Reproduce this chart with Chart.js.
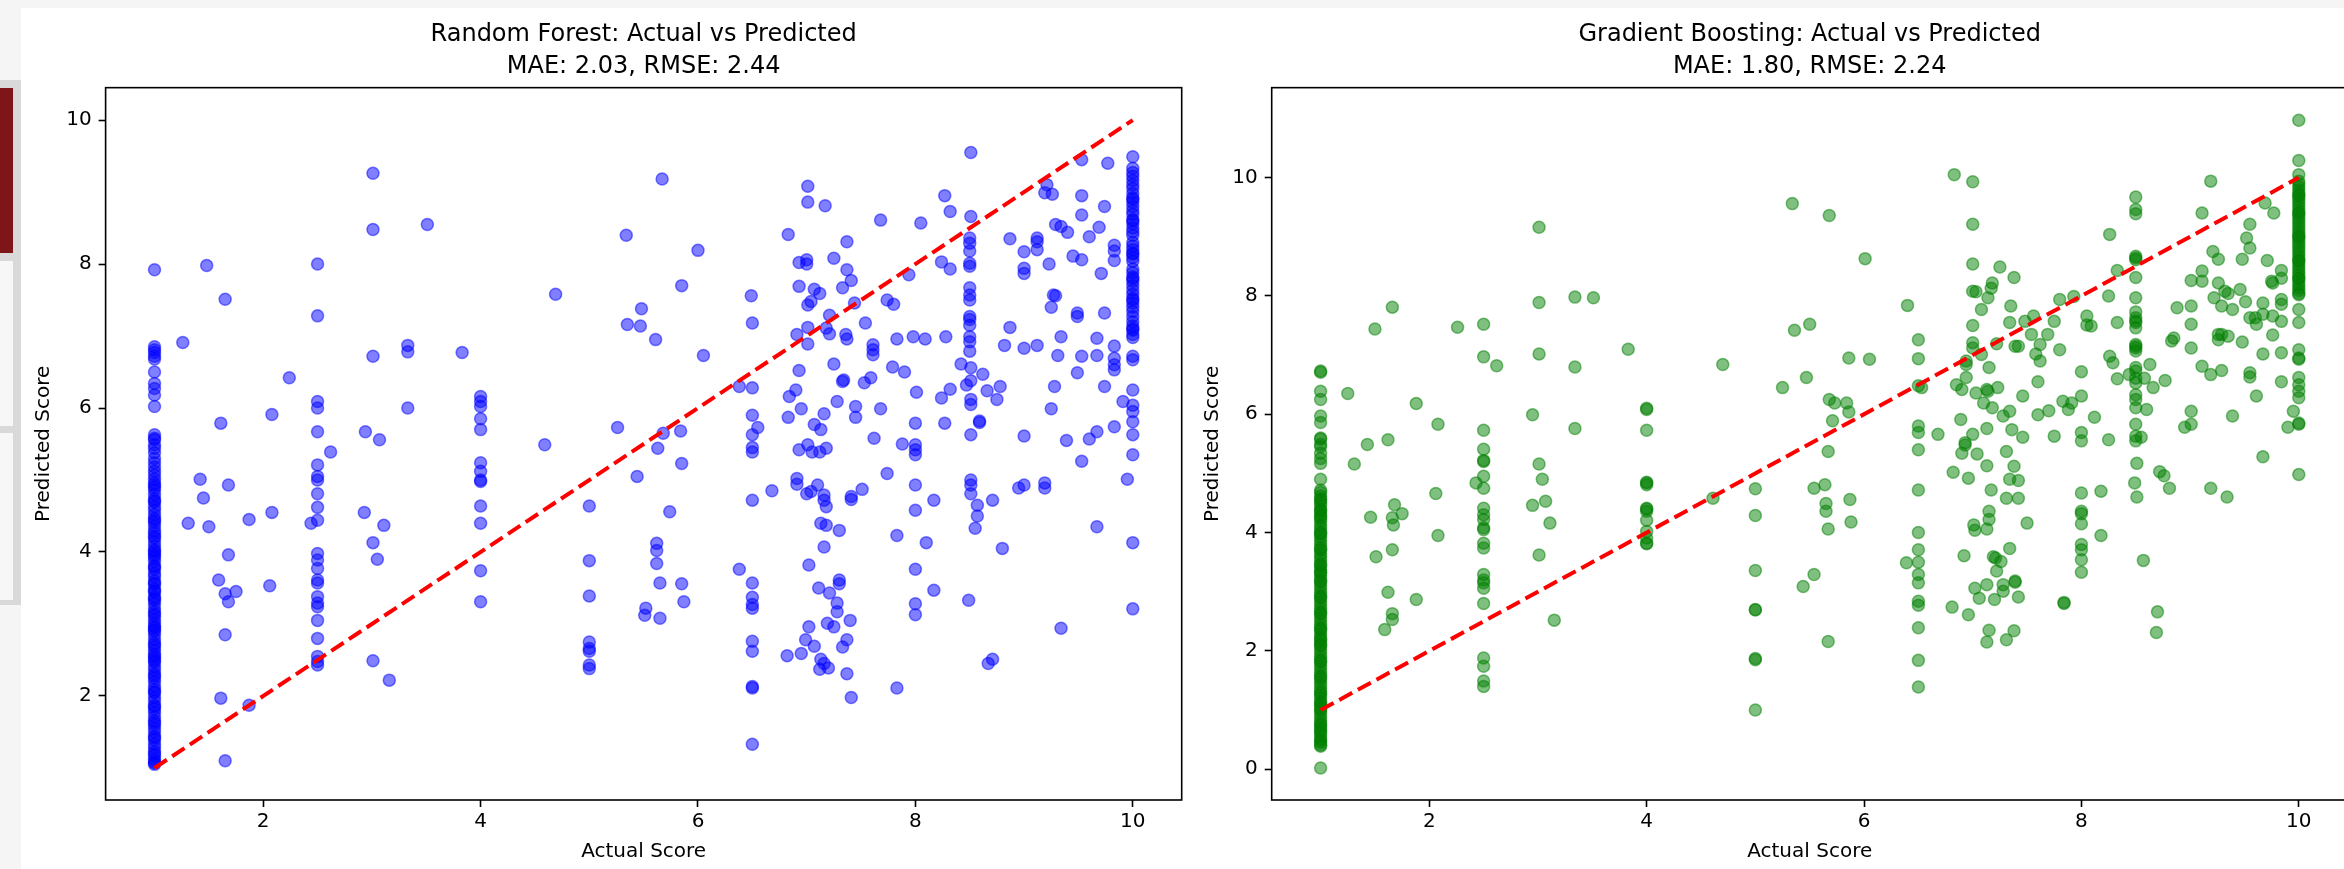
<!DOCTYPE html>
<html><head><meta charset="utf-8">
<script src="https://cdn.jsdelivr.net/npm/chart.js@4"></script>
<style>
html,body{margin:0;padding:0;width:2344px;height:869px;overflow:hidden;background:#f5f5f5;}
#panel{position:absolute;left:21px;top:8px;width:2323px;height:861px;background:#fff;}
#sidebar{position:absolute;left:0;top:80px;width:21px;height:525px;background:#d9d9d9;}
.sb{position:absolute;left:0;width:13px;}
canvas{position:absolute;top:0;}
</style></head><body>
<div id="panel"></div>
<div id="sidebar"></div>
<div class="sb" style="top:88px;height:165px;background:#7d1519"></div>
<div class="sb" style="top:261px;height:165px;background:#f7f7f7"></div>
<div class="sb" style="top:433px;height:167px;background:#f7f7f7"></div>
<canvas id="rf" width="1165" height="869" style="left:21px"></canvas>
<canvas id="gb" width="1212" height="869" style="left:1188px"></canvas>
<script>
const xTicks = [2, 4, 6, 8, 10];
const rfYTicks = [2, 4, 6, 8, 10];
const gbYTicks = [0, 2, 4, 6, 8, 10];
const perfectLine = [1, 10];
const rfTitle = ['Random Forest: Actual vs Predicted', 'MAE: 2.03, RMSE: 2.44'];
const gbTitle = ['Gradient Boosting: Actual vs Predicted', 'MAE: 1.80, RMSE: 2.24'];
const xLabel = 'Actual Score';
const yLabel = 'Predicted Score';

// [actual, predicted]
const rfPoints = [
[1,7.92],[1,6.85],[1,6.81],[1,6.77],[1,6.72],[1,6.68],[1,6.50],[1,6.34],[1,6.27],[1,6.18],
[1,6.02],[1,5.63],[1,5.56],[1,5.49],[1,5.58],[1,5.44],[1,5.38],[1,5.30],[1,5.24],[1,5.18],
[1,5.12],[1,5.07],[1,5.01],[1,4.96],[1,4.90],[1,4.86],[1,4.80],[1,4.74],[1,4.69],[1,4.63],
[1,4.58],[1,4.52],[1,4.47],[1,4.41],[1,4.36],[1,4.30],[1,4.26],[1,4.19],[1,4.14],[1,4.08],
[1,4.03],[1,3.98],[1,3.92],[1,3.87],[1,3.81],[1,3.76],[1,3.70],[1,3.66],[1,3.60],[1,3.55],
[1,3.49],[1,3.44],[1,3.38],[1,3.33],[1,3.28],[1,3.22],[1,3.17],[1,3.11],[1,3.06],[1,3.01],
[1,2.95],[1,2.90],[1,2.85],[1,2.79],[1,2.74],[1,2.68],[1,2.63],[1,2.58],[1,2.52],[1,2.47],
[1,2.41],[1,2.36],[1,2.31],[1,2.25],[1,2.20],[1,2.14],[1,2.09],[1,2.04],[1,1.98],[1,1.93],
[1,1.87],[1,1.82],[1,1.77],[1,1.71],[1,1.66],[1,1.60],[1,1.55],[1,1.50],[1,1.44],[1,1.39],
[1,1.33],[1,1.28],[1,1.23],[1,1.17],[1,1.12],[1,1.07],[1,1.05],[1,4.93],[1,4.71],[1,4.44],
[1,4.22],[1,4.01],[1,3.79],[1,3.57],[1,3.35],[1,3.14],[1,2.92],[1,2.71],[1,2.49],[1,2.28],
[1,2.06],[1,1.85],[1,1.63],[1,1.42],[1,1.20],[1,1.09],[1,3.95],[1,3.46],[1,2.97],[1,2.55],
[1.26,6.91],[1.48,7.98],[1.65,7.51],[2.24,6.42],[2.08,5.91],[1.61,5.79],
[2.5,8.0],[2.5,7.28],[2.5,6.09],[2.5,6.0],[2.5,5.67],
[3.01,9.26],[3.01,8.48],[3.01,6.72],[3.51,8.55],[3.33,6.87],[3.33,6.78],[3.33,6.0],[3.83,6.77],
[4.0,6.16],[4.0,6.09],[4.0,6.02],[4.0,5.85],[4.0,5.70],[2.94,5.67],[3.07,5.56],
[4.69,7.58],[4.59,5.49],[5.34,8.40],[5.35,7.16],[5.47,7.14],[5.48,7.38],[5.61,6.95],[5.67,9.18],
[5.85,7.70],[6.0,8.19],[6.05,6.73],[5.26,5.73],[5.68,5.65],[5.84,5.68],[5.63,5.44],
[1.42,5.01],[1.45,4.75],[1.68,4.93],[1.31,4.40],[1.50,4.35],[1.87,4.45],[2.08,4.55],[1.68,3.96],
[1.59,3.61],[1.65,3.42],[1.68,3.31],[1.75,3.45],[2.06,3.53],[1.65,2.85],[1.61,1.97],[1.87,1.87],[1.65,1.10],
[2.5,5.21],[2.5,5.05],[2.5,5.0],[2.5,4.81],[2.5,4.62],[2.5,4.44],[2.5,3.98],[2.5,3.89],[2.5,3.77],[2.5,3.61],
[2.5,3.57],[2.5,3.38],[2.5,3.29],[2.5,3.24],[2.5,3.05],[2.5,2.80],[2.5,2.55],[2.5,2.48],[2.5,2.43],
[2.44,4.40],[2.62,5.39],[2.93,4.55],[3.01,4.13],[3.05,3.90],[3.11,4.37],[3.01,2.49],[3.16,2.22],
[4.0,5.24],[4.0,5.12],[4.0,5.0],[4.0,4.98],[4.0,4.64],[4.0,4.40],[4.0,3.74],[4.0,3.31],
[5.0,4.64],[5.0,3.88],[5.0,3.39],[5.0,2.75],[5.0,2.66],[5.0,2.62],[5.0,2.43],[5.0,2.38],
[5.44,5.05],[5.85,5.23],[5.74,4.56],[5.62,4.12],[5.62,4.02],[5.62,3.84],[5.65,3.57],[5.52,3.22],
[5.51,3.12],[5.65,3.08],[5.85,3.56],[5.87,3.31],
[8.51,9.55],[9.53,9.45],[9.77,9.40],[10,9.49],
[10,9.33],[10,9.27],[10,9.22],[10,9.16],[10,9.10],[10,9.05],[10,8.98],[10,8.92],[10,8.86],[10,8.80],
[10,8.74],[10,8.69],[10,8.62],[10,8.56],[10,8.50],[10,8.45],[10,8.40],[10,8.30],[10,8.25],[10,8.20],
[10,8.14],[10,8.09],[10,8.04],[10,7.93],[10,7.88],[10,7.82],[10,7.76],[10,7.70],[10,7.64],[10,7.58],
[10,7.52],[10,7.46],[10,7.40],[10,7.34],[10,7.27],[10,7.20],[10,7.14],[10,7.08],[10,7.02],[10,6.98],
[10,8.90],[10,8.60],[10,8.15],[10,7.80],[10,7.50],[10,7.10],
[10,6.72],[10,6.67],[10,6.25],[10,6.04],[10,5.95],[10,5.81],[10,5.63],[10,5.35],[10,4.13],[10,3.21],
[7.01,9.08],[7.01,8.86],[7.17,8.81],[8.27,8.95],[8.32,8.73],[7.68,8.61],[8.05,8.57],[8.51,8.66],
[6.83,8.41],[7.37,8.31],[7.0,8.06],[6.93,8.02],[7.0,8.0],[7.25,8.08],[7.37,7.92],[7.41,7.77],[7.33,7.67],
[6.93,7.69],[7.07,7.65],[7.12,7.59],[7.01,7.43],[7.04,7.48],[7.44,7.46],[7.74,7.5],[7.8,7.44],
[7.94,7.85],[8.24,8.03],[8.32,7.93],
[8.5,8.36],[8.5,8.29],[8.5,8.18],[8.5,8.01],[8.5,7.97],[8.5,7.67],[8.5,7.57],[8.5,7.50],[8.5,7.27],
[8.5,7.23],[8.5,7.15],[8.5,6.99],[8.5,6.92],[8.5,6.79],
[9.21,9.10],[9.19,8.99],[9.26,8.97],[9.53,8.95],[9.53,8.68],[9.74,8.80],[9.29,8.55],[9.34,8.52],
[9.40,8.44],[9.60,8.38],[9.69,8.51],[8.87,8.35],[9.12,8.36],[9.12,8.31],[9.12,8.20],[9.0,8.17],
[9.0,7.94],[9.0,7.87],[9.23,8.0],[9.45,8.11],[9.53,8.06],[9.83,8.26],[9.83,8.18],[9.83,8.05],
[9.71,7.87],[9.27,7.57],[9.29,7.56],[9.25,7.40],[9.49,7.32],[9.49,7.27],[9.74,7.32],
[6.49,7.56],[6.50,7.18],[7.21,7.29],[7.18,7.11],[7.21,7.03],[7.01,7.12],[6.91,7.02],[7.01,6.89],
[7.36,7.02],[7.37,6.96],[7.54,7.18],[7.61,6.88],[7.61,6.81],[7.61,6.74],[7.83,6.96],[7.98,6.99],
[8.09,6.96],[8.28,6.99],[8.87,7.12],[8.82,6.87],[9.0,6.83],[9.12,6.87],[9.34,6.99],[9.67,6.97],
[9.83,6.86],[9.83,6.69],[9.83,6.60],[9.83,6.53],[9.31,6.73],[9.53,6.72],[9.67,6.73],[9.49,6.49],
[7.25,6.61],[6.93,6.52],[7.79,6.57],[7.90,6.50],[7.34,6.39],[7.33,6.37],[7.53,6.35],[7.59,6.42],
[8.01,6.22],[8.42,6.61],[8.51,6.56],[8.62,6.47],[8.51,6.38],[8.47,6.32],[8.32,6.26],[8.24,6.14],
[8.66,6.24],[8.78,6.30],[8.75,6.12],[8.51,6.12],[8.51,6.05],[8.59,5.82],[8.59,5.80],
[9.28,6.30],[9.25,5.99],[9.74,6.30],[9.91,6.09],[9.83,5.74],[9.67,5.67],[9.60,5.57],[9.0,5.61],[9.39,5.55],
[6.38,6.30],[6.50,6.28],[6.50,5.9],[6.55,5.73],[6.50,5.63],[6.84,6.16],[6.9,6.25],[6.83,5.87],[6.95,5.99],
[7.07,5.77],[7.13,5.70],[7.16,5.92],[7.28,6.09],[7.45,6.02],[7.45,5.87],[7.68,5.99],[7.62,5.58],
[8.0,5.79],[8.27,5.79],[8.51,5.63],
[6.5,5.39],[6.5,5.45],[6.93,5.42],[7.01,5.49],[7.05,5.39],[7.12,5.39],[7.18,5.44],
[7.88,5.50],[8.0,5.49],[8.0,5.42],[8.0,5.35],[9.53,5.26],[7.74,5.09],
[6.91,5.02],[6.91,4.94],[7.10,4.93],[7.04,4.84],[7.0,4.81],[7.16,4.79],[7.16,4.72],[7.18,4.63],
[7.41,4.77],[7.41,4.73],[7.51,4.87],[6.68,4.85],[6.5,4.72],[8.0,4.93],[8.0,4.58],[8.17,4.72],
[8.51,5.0],[8.51,4.93],[8.51,4.81],[8.57,4.65],[8.57,4.5],[8.55,4.33],[8.71,4.72],[8.95,4.89],
[9.0,4.93],[9.19,4.96],[9.19,4.89],[9.95,5.01],[9.67,4.35],[7.13,4.40],[7.18,4.37],[7.30,4.30],
[7.83,4.23],[8.1,4.13],[8.80,4.05],[7.16,4.07],[7.02,3.82],[6.38,3.76],[8.0,3.76],[6.5,3.57],
[7.30,3.61],[7.30,3.56],[7.11,3.50],[7.21,3.43],[7.28,3.29],[7.28,3.17],[6.5,3.37],[6.5,3.27],
[6.5,3.22],[8.17,3.47],[8.0,3.28],[8.0,3.13],[8.49,3.33],[7.40,3.05],[7.02,2.96],[7.19,3.01],
[7.25,2.96],[9.34,2.94],[6.5,2.76],[6.5,2.62],[6.99,2.78],[7.07,2.69],[6.95,2.59],[6.82,2.56],
[7.37,2.78],[7.33,2.68],[7.13,2.51],[7.16,2.45],[7.12,2.37],[7.2,2.39],[7.37,2.31],[8.71,2.51],
[8.67,2.45],[6.5,2.13],[6.5,2.11],[7.83,2.11],[7.41,1.98],[6.5,1.33]
];

const gbPoints = [
[1,6.73],[1,6.71],[1,6.39],[1,6.25],[1,5.97],[1,5.86],[1,5.60],[1,5.58],[1,5.49],[1,5.45],
[1,5.34],[1,5.25],[1,5.17],[1,4.90],[1,4.72],[1,4.68],[1,4.62],[1,4.57],[1,4.51],[1,4.46],
[1,4.40],[1,4.35],[1,4.30],[1,4.24],[1,4.19],[1,4.13],[1,4.08],[1,4.02],[1,3.97],[1,3.92],
[1,3.86],[1,3.81],[1,3.75],[1,3.70],[1,3.64],[1,3.59],[1,3.54],[1,3.48],[1,3.43],[1,3.37],
[1,3.32],[1,3.27],[1,3.21],[1,3.16],[1,3.10],[1,3.05],[1,2.99],[1,2.94],[1,2.89],[1,2.83],
[1,2.78],[1,2.72],[1,2.67],[1,2.62],[1,2.56],[1,2.51],[1,2.45],[1,2.40],[1,2.35],[1,2.29],
[1,2.24],[1,2.18],[1,2.13],[1,2.08],[1,2.02],[1,1.97],[1,1.91],[1,1.86],[1,1.81],[1,1.75],
[1,1.70],[1,1.64],[1,1.59],[1,1.53],[1,1.48],[1,1.43],[1,1.37],[1,1.32],[1,1.26],[1,1.21],
[1,1.15],[1,1.10],[1,1.05],[1,0.99],[1,0.94],[1,0.88],[1,0.83],[1,0.78],[1,0.72],[1,0.67],
[1,0.61],[1,0.56],[1,0.51],[1,0.45],[1,0.41],[1,0.39],[1,0.02],[1,4.55],[1,4.27],[1,3.99],
[1,3.72],[1,3.45],[1,3.18],[1,2.91],[1,2.64],[1,2.37],[1,2.10],[1,1.83],[1,1.56],[1,1.29],
[1,1.02],[1,0.75],[1,0.48],[1,4.38],[1,3.33],[1,2.20],[1,1.12],[1,0.64],
[3.01,9.16],[5.34,9.56],[1.66,7.81],[1.50,7.44],[3.01,7.89],[3.34,7.98],[3.51,7.97],[2.26,7.47],[2.50,7.52],
[5.36,7.42],[5.50,7.52],[2.50,6.97],[2.62,6.82],[3.01,7.02],[3.34,6.80],[3.83,7.10],[4.70,6.84],[5.25,6.45],[5.47,6.62],
[1.25,6.35],[1.88,6.18],[2.08,5.83],[1.43,5.49],[1.62,5.57],[2.5,5.73],[2.95,5.99],[3.34,5.76],[4.0,6.08],[4.0,6.10],[4.0,5.73],
[1.31,5.16],[2.06,4.66],[1.46,4.26],[1.68,4.47],[1.75,4.32],[1.66,4.25],[1.67,4.13],[2.08,3.95],[1.51,3.59],[1.66,3.71],
[1.62,2.99],[1.88,2.87],[1.66,2.63],[1.66,2.53],[1.59,2.36],
[2.5,5.41],[2.5,5.22],[2.5,5.20],[2.5,4.95],[2.5,4.75],[2.5,4.41],[2.5,4.30],[2.5,4.22],[2.5,4.08],[2.5,4.05],
[2.5,3.82],[2.5,3.74],[2.5,3.29],[2.5,3.20],[2.5,3.15],[2.5,3.06],[2.5,2.80],[2.5,1.88],[2.5,1.74],[2.5,1.49],[2.5,1.40],
[2.43,4.84],[3.01,5.16],[3.04,4.90],[2.95,4.46],[3.07,4.53],[3.11,4.16],[3.01,3.62],[3.15,2.52],
[4.0,4.84],[4.0,4.81],[4.0,4.85],[4.0,4.40],[4.0,4.41],[4.0,4.36],[4.0,4.21],[4.0,4.02],[4.0,3.91],[4.0,3.82],[4.0,3.81],
[4.61,4.58],
[5.0,4.74],[5.0,4.29],[5.0,3.36],[5.0,2.70],[5.0,2.69],[5.0,1.87],[5.0,1.85],[5.0,1.00],
[5.54,3.29],[5.44,3.09],[5.54,4.75],
[10,10.97],[10,10.29],[10,10.05],
[10,9.94],[10,9.89],[10,9.84],[10,9.79],[10,9.74],[10,9.69],[10,9.64],[10,9.59],[10,9.54],[10,9.49],
[10,9.44],[10,9.39],[10,9.34],[10,9.29],[10,9.24],[10,9.19],[10,9.14],[10,9.09],[10,9.04],[10,8.99],
[10,8.94],[10,8.89],[10,8.84],[10,8.79],[10,8.74],[10,8.69],[10,8.64],[10,8.59],[10,8.54],[10,8.49],
[10,8.44],[10,8.39],[10,8.34],[10,8.29],[10,8.24],[10,8.19],[10,8.14],[10,8.09],[10,8.04],[10,8.02],
[10,9.70],[10,9.40],[10,9.00],[10,8.60],[10,8.30],
[10,7.77],[10,7.55],[10,7.09],[10,6.95],[10,6.93],[10,6.62],[10,6.50],[10,6.39],[10,6.28],[10,5.85],[10,5.83],[10,4.98],
[6.83,10.05],[7.0,9.93],[5.68,9.36],[7.0,9.21],[8.5,9.67],[8.5,9.46],[8.5,9.39],[8.26,9.04],[9.19,9.94],
[9.11,9.40],[9.69,9.57],[9.77,9.40],[9.55,9.21],[9.52,8.98],[9.55,8.81],[9.48,8.62],[9.21,8.75],[9.26,8.62],
[9.71,8.60],[6.01,8.63],[7.0,8.54],[7.25,8.49],[7.38,8.31],[8.5,8.67],[8.5,8.61],[8.5,8.64],[8.33,8.43],[8.5,8.31],
[9.11,8.42],[9.01,8.26],[9.11,8.25],[9.26,8.22],[9.32,8.08],[9.35,8.04],[9.46,8.11],
[9.84,8.43],[9.84,8.30],[9.75,8.25],[9.76,8.22],[9.22,7.97],[9.29,7.83],[9.39,7.77],[9.51,7.90],
[9.84,7.94],[9.84,7.86],[9.67,7.88],[9.67,7.69],[9.6,7.63],[9.61,7.52],[9.55,7.63],[9.76,7.66],[9.84,7.57],
[9.76,7.34],[9.01,7.83],[8.88,7.80],[9.01,7.52],[8.85,7.29],[8.83,7.24],[9.01,7.12],
[9.26,7.35],[9.29,7.35],[9.26,7.26],[9.35,7.32],[9.48,7.22],[9.67,7.02],[9.84,7.04],
[9.11,6.81],[9.19,6.67],[9.29,6.74],[9.55,6.70],[9.55,6.63],[9.61,6.31],[9.84,6.55],
[9.01,6.05],[9.01,5.83],[8.95,5.78],[9.39,5.97],[9.95,6.05],[9.90,5.78],[8.77,6.57],
[8.63,6.84],[8.66,6.45],[8.58,6.61],
[8.5,7.97],[8.5,7.73],[8.5,7.63],[8.5,7.55],[8.5,7.46],[8.5,7.18],[8.5,7.12],[8.5,7.07],[8.5,6.79],
[8.5,6.73],[8.5,6.61],[8.5,6.53],[8.5,6.33],[8.5,6.25],[8.5,6.11],[8.5,5.83],[8.5,5.63],[8.5,5.55],
[8.5,7.58],[8.5,7.15],
[8.44,6.67],[8.6,6.08],[8.25,8.0],[8.33,7.55],[8.26,6.98],[8.29,6.87],[8.33,6.60],[8.0,6.72],[8.0,6.31],
[8.12,5.95],[8.05,7.66],[8.05,7.51],[8.09,7.49],[7.80,7.94],[7.93,7.99],[7.75,7.57],[7.80,7.09],[7.60,6.55],
[7.54,7.35],[7.62,7.18],[7.69,7.35],[7.58,7.02],[7.62,6.90],[7.56,7.66],[7.48,7.57],[7.35,7.83],[7.34,7.55],
[7.39,7.15],[7.42,7.15],[7.22,7.19],[7.46,6.31],[7.83,6.22],[7.91,6.19],[7.88,6.08],
[7.60,5.99],[7.70,6.06],[7.34,6.05],[7.28,5.97],[7.36,5.74],[7.46,5.61],[7.75,5.63],[8.0,5.69],[8.0,5.55],
[8.25,5.57],[8.55,5.61],
[7.0,8.08],[7.03,8.07],[7.18,8.22],[7.17,8.13],[7.14,7.97],[7.08,7.77],[7.0,7.50],[7.0,7.21],[7.0,7.12],
[7.08,7.01],[6.94,6.90],[6.94,6.84],[6.94,6.62],[6.85,6.50],[6.9,6.42],[7.03,6.36],[7.10,6.19],[7.15,6.79],
[7.13,6.42],[7.23,6.45],[7.14,6.39],[7.18,6.11],[6.89,5.91],[7.13,5.76],[7.0,5.66],[6.93,5.52],
[6.5,7.26],[6.5,6.94],[6.5,6.48],[6.53,6.45],[6.5,5.8],[6.5,5.69],[6.68,5.66],[6.40,7.84],
[5.86,6.95],[6.05,6.93],[5.68,6.25],[5.73,6.19],[5.84,6.19],[5.86,6.04],[5.71,5.89],
[5.67,5.37],[6.5,5.40],[6.90,5.34],[6.93,5.48],[7.04,5.33],[7.31,5.37],[9.67,5.28],
[8.51,5.17],[8.72,5.03],[8.76,4.96],[8.81,4.75],[9.19,4.75],[9.34,4.60],[8.49,4.84],[8.51,4.60],
[8.18,4.70],[8.0,4.67],[8.0,4.36],[8.0,4.32],[8.0,4.15],[8.18,3.95],[8.0,3.80],[8.0,3.71],[8.0,3.54],
[8.0,3.33],[8.57,3.53],[7.84,2.80],[7.84,2.82],[8.70,2.66],[8.69,2.31],
[6.82,5.02],[6.96,4.92],[7.13,5.13],[7.38,5.12],[7.34,4.90],[7.42,4.88],[7.17,4.72],[7.31,4.58],[7.42,4.58],
[7.50,4.16],[7.15,4.36],[7.15,4.22],[7.01,4.13],[7.02,4.04],[7.13,4.06],[7.34,3.73],[6.92,3.61],
[7.19,3.59],[7.21,3.57],[7.26,3.51],[7.22,3.35],[7.39,3.16],[7.39,3.18],[7.13,3.12],[7.02,3.06],
[7.28,3.12],[7.28,3.01],[7.06,2.89],[7.20,2.87],[7.42,2.91],[6.81,2.74],[6.96,2.61],
[7.15,2.35],[7.13,2.15],[7.38,2.34],[7.31,2.19],
[6.5,4.72],[6.5,4.00],[6.5,3.71],[6.5,3.50],[6.5,3.29],[6.5,3.15],[6.5,2.84],[6.5,2.77],[6.5,2.39],
[6.5,1.84],[6.5,1.39],[6.39,3.49],
[5.64,4.81],[5.65,4.49],[5.65,4.36],[5.67,4.06],[5.67,2.16],[5.87,4.56],[5.88,4.18]
];

Chart.defaults.font.family = "'DejaVu Sans', sans-serif";
Chart.defaults.color = '#000';

const framePlugin = {
  id: 'frame',
  afterDatasetsDraw(chart) {
    const a = chart.chartArea, ctx = chart.ctx;
    ctx.save();
    ctx.strokeStyle = '#000';
    ctx.lineWidth = 1.6;
    ctx.strokeRect(a.left, a.top, a.right - a.left, a.bottom - a.top);
    ctx.restore();
  }
};

function axisCommon() {
  return {
    ticks: { font: { size: 20 }, color: '#000', maxRotation: 0, autoSkip: false },
    grid: { display: true, drawOnChartArea: false, drawTicks: true, tickLength: 7, tickWidth: 1.6, tickColor: '#000' },
    border: { display: false }
  };
}

function build(id, points, fill, yMin, yMax, yTicks, title, yWidth, yTitlePad, padRight) {
  const xAxis = axisCommon();
  xAxis.type = 'linear';
  xAxis.min = 0.55; xAxis.max = 10.45;
  xAxis.ticks.padding = 3;
  xAxis.afterBuildTicks = s => { s.ticks = xTicks.map(v => ({ value: v })); };
  xAxis.afterFit = s => { s.height = 69; };
  xAxis.title = { display: true, text: xLabel, color: '#000', font: { size: 20 }, padding: { top: 0, bottom: 5 } };

  const yAxis = axisCommon();
  yAxis.type = 'linear';
  yAxis.min = yMin; yAxis.max = yMax;
  yAxis.ticks.padding = 7;
  yAxis.afterBuildTicks = s => { s.ticks = yTicks.map(v => ({ value: v })); };
  yAxis.afterFit = s => { s.width = yWidth; };
  yAxis.title = { display: true, text: yLabel, color: '#000', font: { size: 20 }, padding: { top: yTitlePad, bottom: 0 } };

  return new Chart(document.getElementById(id), {
    type: 'scatter',
    data: {
      datasets: [
        {
          data: perfectLine.map(v => ({ x: v, y: v })),
          showLine: true, borderColor: '#ff0000', borderWidth: 4, borderDash: [14.8, 6.4],
          pointRadius: 0, fill: false, order: 0
        },
        {
          data: points.map(p => ({ x: p[0], y: p[1] })),
          pointRadius: 6, pointBorderWidth: 1.5,
          pointBackgroundColor: fill, pointBorderColor: fill,
          backgroundColor: fill, borderColor: fill, order: 1
        }
      ]
    },
    options: {
      responsive: false, animation: false, devicePixelRatio: 1, events: [],
      layout: { autoPadding: false, padding: { left: 0, right: padRight, top: 0, bottom: 0 } },
      plugins: {
        legend: { display: false },
        tooltip: { enabled: false },
        title: {
          display: true, text: title, fullSize: false, color: '#000',
          font: { size: 24, weight: 'normal', lineHeight: 1.32 },
          padding: { top: 19.2, bottom: 5.1 }
        }
      },
      scales: { x: xAxis, y: yAxis }
    },
    plugins: [framePlugin]
  });
}

build('rf', rfPoints, 'rgba(0,0,255,0.5)', 0.555, 10.45, rfYTicks, rfTitle, 84.6, 10.8, 4.3);
build('gb', gbPoints, 'rgba(0,128,0,0.5)', -0.52, 11.52, gbYTicks, gbTitle, 83.7, 12.5, 52.3);
</script>
</body></html>
